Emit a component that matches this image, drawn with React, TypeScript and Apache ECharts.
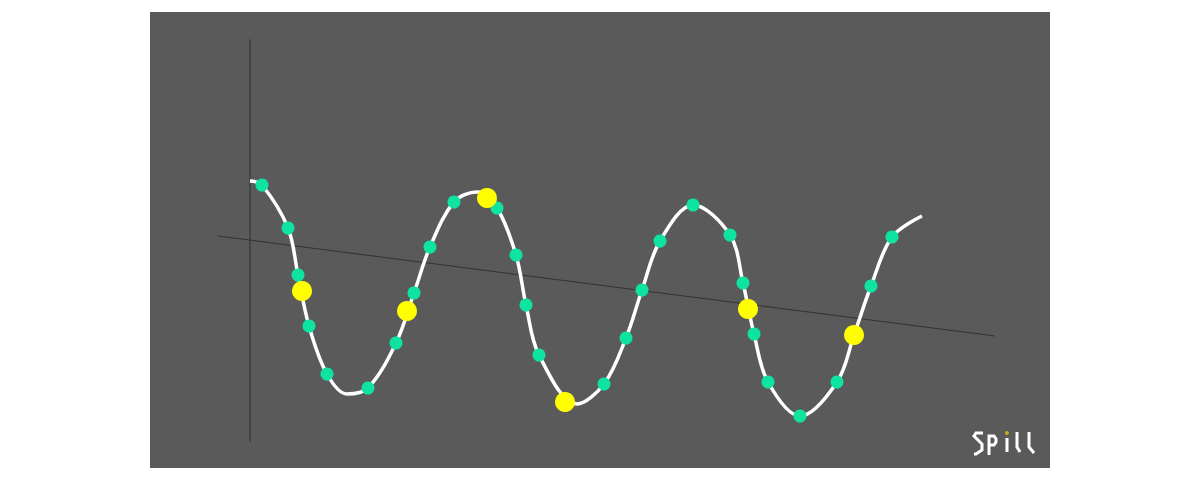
import React, { useEffect, useRef } from "react";
import * as echarts from "echarts";

// Curve sample points: [x, y]
const curvePoints: number[][] = [
  [0, 260], [12, 256], [38, 213], [48, 166], [59, 115], [77, 67], [97, 47],
  [118, 53], [146, 98], [164, 148], [180, 194], [204, 239], [227, 249],
  [247, 233], [266, 186], [276, 136], [289, 86], [327, 37], [354, 57],
  [376, 103], [392, 151], [410, 200], [443, 236], [480, 206], [493, 158],
  [504, 107], [518, 59], [550, 25], [587, 59], [604, 106], [621, 155],
  [642, 204], [672, 225],
];

const greenPoints: number[][] = [
  [12, 256], [38, 213], [48, 166], [59, 115], [77, 67], [118, 53], [146, 98],
  [164, 148], [180, 194], [204, 239], [247, 233], [266, 186], [276, 136],
  [289, 86], [354, 57], [376, 103], [392, 151], [410, 200], [443, 236],
  [480, 206], [493, 158], [504, 107], [518, 59], [550, 25], [587, 59],
  [621, 155], [642, 204],
];

const yellowPoints: number[][] = [
  [52, 150], [157, 130], [237, 243], [315, 39], [498, 132], [604, 106],
];

const trendPoints: number[][] = [
  [-32, 205], [745, 105],
];

export default function App() {
  const ref = useRef<HTMLDivElement>(null);
  useEffect(() => {
    if (!ref.current) return;
    const chart = echarts.init(ref.current, undefined, { renderer: "svg" });
    const white = "#ffffff";
    chart.setOption({
      animation: false,
      backgroundColor: "#5a5a5a",
      grid: { left: 68, right: 50, top: 28, bottom: 27 },
      xAxis: {
        type: "value",
        min: -32,
        max: 750,
        axisLine: { show: false },
        axisTick: { show: false },
        axisLabel: { show: false },
        splitLine: { show: false },
      },
      yAxis: {
        type: "value",
        min: 0,
        max: 401,
        axisLine: { show: true, onZero: true, lineStyle: { color: "#444444", width: 2 } },
        axisTick: { show: false },
        axisLabel: { show: false },
        splitLine: { show: false },
      },
      series: [
        {
          type: "line",
          data: trendPoints,
          clip: false,
          silent: true,
          symbol: "none",
          lineStyle: { color: "#333333", width: 1 },
          z: 1,
        },
        {
          type: "line",
          data: curvePoints,
          smooth: 0.35,
          symbol: "none",
          lineStyle: { color: white, width: 3.5 },
          z: 2,
        },
        {
          type: "scatter",
          data: greenPoints,
          symbolSize: 13,
          itemStyle: { color: "#0fe3a2", opacity: 1 },
          z: 3,
        },
        {
          type: "scatter",
          data: yellowPoints,
          symbolSize: 20,
          itemStyle: { color: "#ffff00", opacity: 1 },
          z: 4,
        },
      ],
      graphic: [
        {
          type: "group",
          children: [
            {
              type: "polyline",
              shape: { points: [[833, 421], [826, 421], [824, 424], [832, 432], [832, 438], [826, 442], [824, 442]] },
              style: { stroke: white, lineWidth: 3, fill: null },
            },
            {
              type: "polyline",
              shape: { points: [[839, 443], [839, 424], [844, 424], [846, 427], [846, 430], [844, 433], [839, 433]] },
              style: { stroke: white, lineWidth: 3, fill: null },
            },
            {
              type: "line",
              shape: { x1: 857, y1: 426, x2: 857, y2: 440 },
              style: { stroke: white, lineWidth: 3 },
            },
            {
              type: "circle",
              shape: { cx: 857, cy: 421, r: 2 },
              style: { fill: "#c8a52a" },
            },
            {
              type: "polyline",
              shape: { points: [[867, 420], [867, 435], [870, 440]] },
              style: { stroke: white, lineWidth: 3, fill: null },
            },
            {
              type: "polyline",
              shape: { points: [[879, 420], [879, 435], [884, 441]] },
              style: { stroke: white, lineWidth: 3, fill: null },
            },
          ],
        },
      ],
    });
    return () => chart.dispose();
  }, []);
  return (
    <div
      ref={ref}
      style={{ position: "absolute", left: 150, top: 12, width: 900, height: 456 }}
    />
  );
}
